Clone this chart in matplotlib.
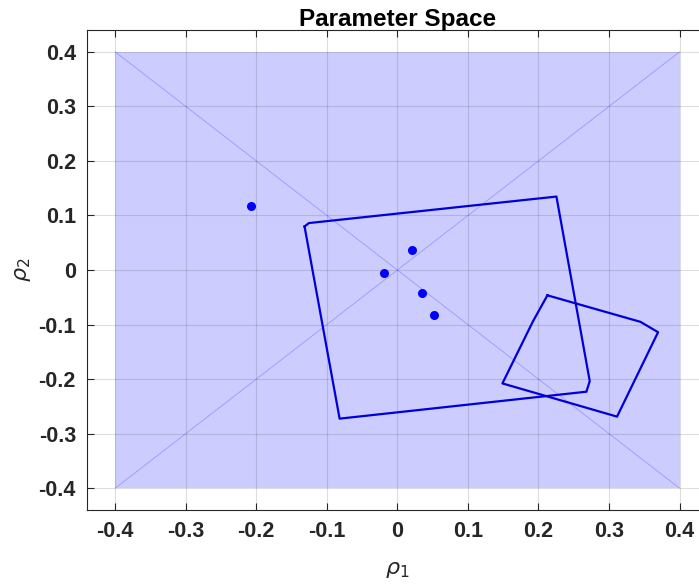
import numpy as np
import matplotlib
matplotlib.use('Agg')
import matplotlib.pyplot as plt

plt.rcParams['font.family'] = ['Liberation Sans', 'DejaVu Sans']
plt.rcParams['mathtext.fontset'] = 'dejavusans'

# bounds of the parameter box
box_x = [-0.4, 0.4, 0.4, -0.4]
box_y = [-0.4, -0.4, 0.4, 0.4]

# big region polygon
poly1_x = [-0.1316, -0.1255, 0.2255, 0.2727, 0.2680, -0.0819, -0.1316]
poly1_y = [0.0798, 0.0861, 0.1347, -0.2037, -0.2231, -0.2725, 0.0798]

# small region polygon
poly2_x = [0.2127, 0.3446, 0.3696, 0.3114, 0.1489, 0.1923, 0.2127]
poly2_y = [-0.0464, -0.0950, -0.1140, -0.2688, -0.2079, -0.0939, -0.0464]

# sample points
pts_x = [-0.208, 0.0202, -0.0185, 0.0344, 0.0514]
pts_y = [0.117, 0.036, -0.0049, -0.0427, -0.083]

ticks = [-0.4, -0.3, -0.2, -0.1, 0, 0.1, 0.2, 0.3, 0.4]
tick_labels = ['-0.4', '-0.3', '-0.2', '-0.1', '0', '0.1', '0.2', '0.3', '0.4']

fig = plt.figure(figsize=(6.99, 5.86), dpi=100)
ax = fig.add_axes([0.1245, 0.1297, 0.888, 0.819])

# shaded box and its diagonals
ax.fill(box_x, box_y, color=(0, 0, 1), alpha=0.2, lw=0, zorder=1)
ax.plot([box_x[0], box_x[2]], [box_y[0], box_y[2]], color=(0, 0, 1), alpha=0.25, lw=0.6, zorder=2)
ax.plot([box_x[3], box_x[1]], [box_y[3], box_y[1]], color=(0, 0, 1), alpha=0.25, lw=0.6, zorder=2)

ax.plot(poly1_x, poly1_y, color='#0000d8', lw=1.6, zorder=4)
ax.plot(poly2_x, poly2_y, color='#0000d8', lw=1.6, zorder=4)
ax.plot(pts_x, pts_y, 'o', color='#0000ff', ms=6.5, mec='none', zorder=5)

ax.set_xlim(-0.44, 0.44)
ax.set_ylim(-0.44, 0.44)
ax.set_xticks(ticks)
ax.set_xticklabels(tick_labels)
ax.set_yticks(ticks)
ax.set_yticklabels(tick_labels)

ax.grid(True, color='#262626', alpha=0.15, lw=0.8, zorder=3)
ax.set_axisbelow(False)
for gl in ax.get_xgridlines() + ax.get_ygridlines():
    gl.set_zorder(3)

ax.tick_params(direction='in', length=5, width=0.8, top=True, right=False,
               labelsize=15.5, colors='#262626', pad=8)
for lbl in ax.get_xticklabels() + ax.get_yticklabels():
    lbl.set_fontweight('bold')
for side in ['left', 'bottom', 'top']:
    ax.spines[side].set_color('#262626')
    ax.spines[side].set_linewidth(0.8)
ax.spines['right'].set_visible(False)

ax.set_xlabel(r'$\rho_1$', fontsize=16, color='#262626', labelpad=12)
ax.set_ylabel(r'$\rho_2$', fontsize=16, color='#262626', labelpad=4)
ax.set_title('Parameter Space', fontsize=17.5, fontweight='bold', pad=3)

fig.savefig('out.png', dpi=100)
